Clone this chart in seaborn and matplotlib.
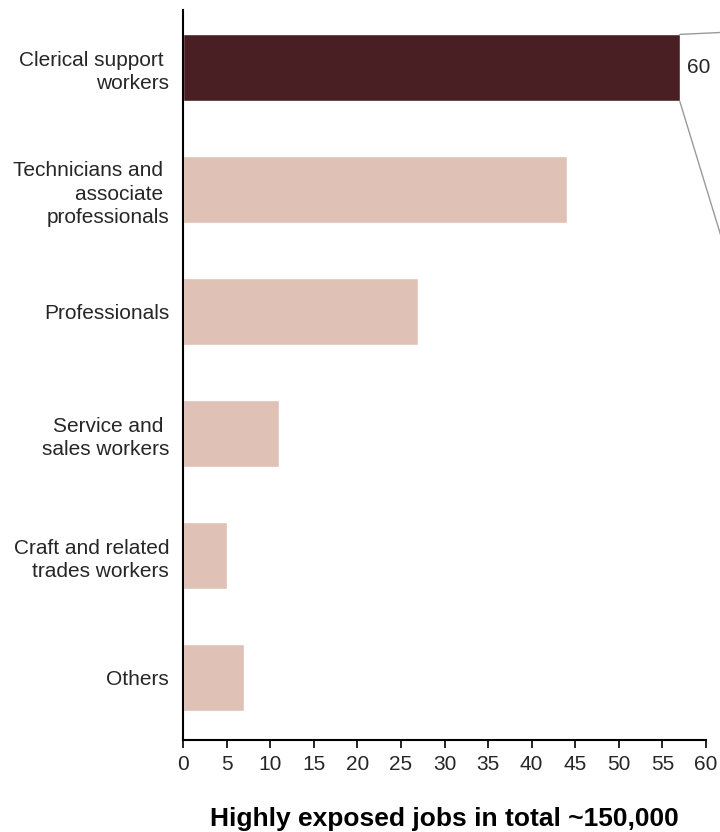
import matplotlib
matplotlib.use("Agg")
import matplotlib.pyplot as plt
import seaborn as sns
import pandas as pd

# Highly exposed jobs by occupation group (thousands)
categories = [
    "Clerical support \nworkers",
    "Technicians and \nassociate \nprofessionals",
    "Professionals",
    "Service and \nsales workers",
    "Craft and related\ntrades workers",
    "Others",
]
jobs_thousands = [57, 44, 27, 11, 5, 7]
highlight_label = "60"
x_ticks = list(range(0, 61, 5))

dark = "#4a1f23"
light = "#e0c1b6"
palette = [dark] + [light] * (len(categories) - 1)

df = pd.DataFrame({"group": categories, "jobs": jobs_thousands})

sns.set_theme(style="white")
plt.rcParams["font.family"] = ["Liberation Sans", "DejaVu Sans"]

fig = plt.figure(figsize=(7.2, 8.32), dpi=100)
# axes spans x from 183px to 706px, y from 10px (top) to 740px (bottom)
ax = fig.add_axes([183 / 720, 1 - 740 / 832, (706 - 183) / 720, (740 - 10) / 832])

bar_width = 0.55
sns.barplot(data=df, y="group", x="jobs", hue="group", palette=palette,
            orient="h", width=bar_width, legend=False, ax=ax, saturation=1)

ax.set_xlim(0, 60)
ax.set_ylim(5.51, -0.475)
ax.set_xticks(x_ticks)
ax.set_xticklabels([str(t) for t in x_ticks])
ax.set_ylabel("")
ax.set_xlabel("Highly exposed jobs in total ~150,000", fontsize=19, fontweight="bold",
              labelpad=23.5, color="black")

for s in ["top", "right"]:
    ax.spines[s].set_visible(False)
for s in ["left", "bottom"]:
    ax.spines[s].set_visible(True)
    ax.spines[s].set_color("black")
    ax.spines[s].set_linewidth(1.5)

ax.tick_params(axis="x", which="both", bottom=True, length=6, width=1.2,
               color="black", labelsize=15, labelcolor="#262626", pad=5)
ax.tick_params(axis="y", which="both", left=False, labelsize=15,
               labelcolor="#262626", pad=4)
for lbl in ax.get_yticklabels():
    lbl.set_multialignment("right")
    lbl.set_linespacing(1.3)

# Value tag and callout lines from the highlighted bar
top_val = jobs_thousands[0]
ax.text(top_val + 0.8, 0, highlight_label, ha="left", va="center",
        fontsize=15, color="#262626")
half = bar_width / 2
ax.plot([top_val, 63], [-half, -half - 0.02], color="#9a9a9a", lw=1,
        clip_on=False)
ax.plot([top_val, 63], [half, half + 6 * 0.234], color="#9a9a9a", lw=1,
        clip_on=False)

fig.savefig("out.png", dpi=100)
